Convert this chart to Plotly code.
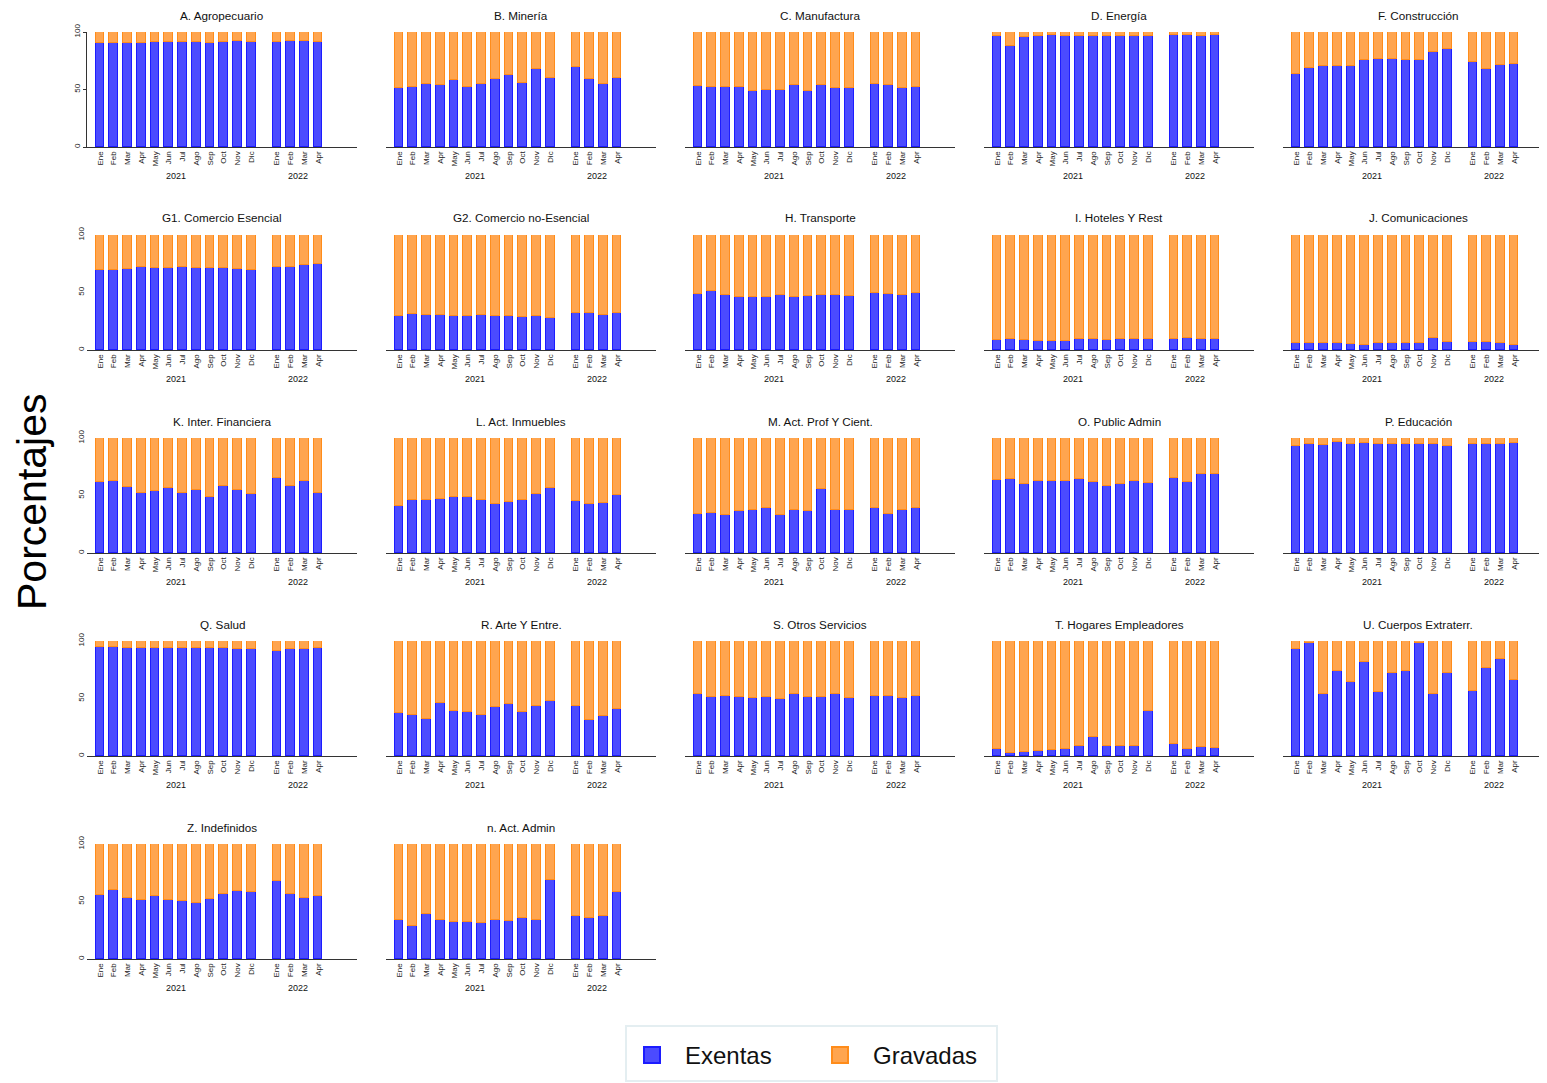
import plotly.graph_objects as go

# ---------------- data ----------------
meses_2021 = ["Ene", "Feb", "Mar", "Apr", "May", "Jun", "Jul", "Ago", "Sep", "Oct", "Nov", "Dic"]
meses_2022 = ["Ene", "Feb", "Mar", "Apr"]
anios = ["2021", "2022"]
series = ["Exentas", "Gravadas"]

titulos = [
    "A. Agropecuario", "B. Minería", "C. Manufactura", "D. Energía", "F. Construcción",
    "G1. Comercio Esencial", "G2. Comercio no-Esencial", "H. Transporte", "I. Hoteles Y Rest", "J. Comunicaciones",
    "K. Inter. Financiera", "L. Act. Inmuebles", "M. Act. Prof Y Cient.", "O. Public Admin", "P. Educación",
    "Q. Salud", "R. Arte Y Entre.", "S. Otros Servicios", "T. Hogares Empleadores", "U. Cuerpos Extraterr.",
    "Z. Indefinidos", "n. Act. Admin",
]

# Exentas share (%), 2021 Ene..Dic then 2022 Ene..Apr
exentas_A = [90.4, 90.1, 90.4, 90.4, 91.0, 91.0, 91.3, 91.6, 90.1, 91.3, 92.2, 91.3, 91.0, 91.9, 92.2, 91.6]
exentas_B = [51.1, 52.0, 55.2, 53.7, 58.6, 52.6, 54.6, 59.5, 62.4, 56.0, 68.1, 60.3, 69.8, 59.5, 54.6, 59.8]
exentas_C = [52.9, 52.0, 52.6, 52.0, 49.1, 50.0, 50.0, 53.7, 49.1, 53.7, 51.7, 51.1, 55.2, 54.3, 51.7, 52.0]
exentas_D = [96.5, 87.8, 96.0, 96.8, 97.0, 96.3, 96.8, 96.3, 96.3, 96.5, 96.5, 96.3, 97.0, 97.0, 96.3, 97.0]
exentas_F = [63.2, 69.0, 70.1, 70.7, 70.7, 75.9, 76.1, 76.7, 75.9, 75.3, 82.8, 85.3, 74.1, 68.1, 71.3, 71.8]
exentas_G1 = [69.5, 69.5, 70.5, 72.0, 71.5, 71.5, 72.0, 71.5, 71.5, 71.5, 70.5, 69.8, 72.2, 72.5, 73.5, 75.0]
exentas_G2 = [29.8, 31.5, 30.3, 30.3, 29.8, 29.8, 30.6, 29.8, 29.8, 28.9, 29.8, 28.0, 32.1, 32.1, 30.6, 32.4]
exentas_H = [48.3, 50.9, 48.0, 46.2, 46.0, 46.0, 48.0, 46.0, 47.1, 48.0, 47.4, 47.1, 49.4, 48.8, 48.0, 49.4]
exentas_I = [9.0, 9.2, 8.7, 8.1, 7.5, 7.5, 9.2, 9.2, 9.0, 9.2, 9.8, 9.8, 9.8, 10.1, 9.8, 9.2]
exentas_J = [5.8, 6.4, 5.8, 5.8, 5.5, 4.6, 5.8, 6.4, 6.1, 6.4, 10.1, 7.2, 7.2, 7.2, 6.4, 4.6]
exentas_K = [61.8, 62.7, 57.5, 52.3, 54.0, 56.6, 52.3, 55.2, 48.8, 58.4, 55.2, 51.7, 65.3, 58.4, 62.7, 52.6]
exentas_L = [41.0, 46.2, 46.5, 47.1, 48.3, 48.3, 46.2, 42.8, 44.2, 46.2, 51.7, 56.9, 44.8, 42.8, 43.6, 50.6]
exentas_M = [34.1, 34.7, 33.2, 36.7, 37.6, 39.3, 33.2, 37.0, 36.1, 55.5, 37.0, 37.0, 39.3, 34.1, 37.3, 39.3]
exentas_O = [63.9, 64.5, 60.1, 62.7, 62.7, 62.7, 64.5, 61.8, 58.7, 60.1, 62.7, 61.0, 65.3, 61.8, 68.8, 68.8]
exentas_P = [93.0, 95.0, 94.0, 96.5, 95.0, 96.0, 95.0, 95.0, 95.0, 95.0, 95.0, 93.0, 95.0, 95.0, 95.0, 96.0]
exentas_Q = [95.0, 95.0, 94.0, 94.0, 94.0, 94.0, 94.0, 94.0, 94.0, 94.0, 93.0, 93.0, 91.0, 93.0, 93.0, 94.0]
exentas_R = [37.1, 35.3, 31.9, 45.7, 39.1, 37.9, 35.3, 42.2, 45.1, 37.9, 43.4, 47.4, 43.4, 31.3, 34.5, 40.5]
exentas_S = [54.3, 51.1, 52.6, 51.7, 50.3, 50.9, 50.0, 54.3, 51.1, 51.7, 54.3, 50.3, 52.6, 52.6, 50.3, 52.6]
exentas_T = [5.8, 2.3, 3.5, 4.3, 4.9, 5.8, 8.6, 16.7, 8.6, 8.6, 8.6, 38.9, 10.1, 5.8, 7.8, 6.6]
exentas_U = [93.4, 98.6, 54.2, 74.1, 64.6, 82.1, 55.3, 71.8, 73.5, 98.6, 54.2, 72.6, 56.5, 76.1, 84.1, 65.7]
exentas_Z = [55.8, 59.8, 52.9, 51.4, 54.6, 51.4, 50.6, 48.8, 52.3, 56.6, 59.0, 58.1, 67.9, 56.4, 52.9, 54.6]
exentas_n = [34.1, 28.9, 39.3, 34.1, 32.1, 32.1, 31.2, 34.1, 33.2, 35.5, 34.1, 68.5, 37.3, 35.5, 37.3, 58.1]

exentas = [
    exentas_A, exentas_B, exentas_C, exentas_D, exentas_F,
    exentas_G1, exentas_G2, exentas_H, exentas_I, exentas_J,
    exentas_K, exentas_L, exentas_M, exentas_O, exentas_P,
    exentas_Q, exentas_R, exentas_S, exentas_T, exentas_U,
    exentas_Z, exentas_n,
]
# Gravadas is the complement of Exentas (shares add to 100 %)
gravadas = [[round(100 - v, 1) for v in s] for s in exentas]

# ---------------- layout geometry ----------------
WIN_W, WIN_H = 1547, 1083
OFF = 8                       # default page margin of the html body
W, H = WIN_W - OFF, WIN_H - OFF


def px(xw):
    """window x pixel -> paper x"""
    return (xw - OFF) / W


def py(yw):
    """window y pixel -> paper y"""
    return 1 - (yw - OFF) / H


FONT = "Liberation Sans, Arial, sans-serif"
BLUE_FILL, BLUE_LINE = "#4b4bff", "#1c1cff"
ORANGE_FILL, ORANGE_LINE = "#ffa54f", "#ff8c1a"

pos_2021 = [i + 1 for i in range(12)]
pos_2022 = [13.87 + j for j in range(4)]
positions = pos_2021 + pos_2022
tick_text = meses_2021 + meses_2022

COL_W = 299
ROW_H = 203
PX_PER_UNIT = 270 / 19.65

fig = go.Figure()
annotations = []

for k, titulo in enumerate(titulos):
    r, c = divmod(k, 5)
    suffix = "" if k == 0 else str(k + 1)
    xname, yname = "x" + suffix, "y" + suffix

    left_w = 87 + COL_W * c
    right_w = min(357 + COL_W * c, WIN_W)
    x0 = 0.05
    x1 = x0 + (right_w - left_w) / PX_PER_UNIT
    top_w = 32 + ROW_H * r
    base_w = 147 + ROW_H * r

    fig.add_trace(go.Bar(
        x=positions, y=exentas[k], name=series[0], width=0.63,
        marker=dict(color=BLUE_FILL, line=dict(color=BLUE_LINE, width=1)),
        xaxis=xname, yaxis=yname, showlegend=False,
    ))
    fig.add_trace(go.Bar(
        x=positions, y=gravadas[k], name=series[1], width=0.63,
        marker=dict(color=ORANGE_FILL, line=dict(color=ORANGE_LINE, width=1)),
        xaxis=xname, yaxis=yname, showlegend=False,
    ))

    fig.layout["xaxis" + suffix] = dict(
        domain=[px(left_w), px(right_w)], range=[x0, x1], anchor=yname,
        tickmode="array", tickvals=positions, ticktext=tick_text, tickangle=-90,
        tickfont=dict(size=8, color="#222", family=FONT), ticks="",
        showline=True, linecolor="#333", linewidth=1.3,
        showgrid=False, zeroline=False, fixedrange=True,
    )
    fig.layout["yaxis" + suffix] = dict(
        domain=[py(base_w), py(top_w)], range=[0, 100], anchor=xname,
        tickmode="array", tickvals=[0, 50, 100], tickangle=-90,
        showticklabels=(c == 0), tickfont=dict(size=8, color="#222", family=FONT),
        ticks="outside" if k == 0 else "", ticklen=3, tickcolor="#333",
        showline=(k == 0), linecolor="#333", linewidth=1,
        showgrid=False, zeroline=False, fixedrange=True,
    )

    annotations.append(dict(
        text=titulo, x=px((left_w + 357 + COL_W * c) / 2), y=py(15 + ROW_H * r),
        xref="paper", yref="paper", xanchor="center", yanchor="middle", showarrow=False,
        font=dict(size=11.7, color="#111", family=FONT),
    ))
    for anio, centro in zip(anios, [sum(pos_2021) / 12, sum(pos_2022) / 4]):
        annotations.append(dict(
            text=anio, x=centro, y=py(176 + ROW_H * r),
            xref=xname, yref="paper", xanchor="center", yanchor="middle", showarrow=False,
            font=dict(size=9, color="#111", family=FONT),
        ))

annotations.append(dict(
    text="Porcentajes", x=px(32), y=py(502), xref="paper", yref="paper",
    textangle=-90, xanchor="center", yanchor="middle", showarrow=False,
    font=dict(size=41, color="#000", family=FONT),
))

# legend entries
fig.add_trace(go.Scatter(
    x=[None], y=[None], mode="markers", name=series[0],
    marker=dict(symbol="square", size=16, color=BLUE_FILL, line=dict(color=BLUE_LINE, width=2)),
))
fig.add_trace(go.Scatter(
    x=[None], y=[None], mode="markers", name=series[1],
    marker=dict(symbol="square", size=16, color=ORANGE_FILL, line=dict(color=ORANGE_LINE, width=2)),
))

# legend frame
legend_box = dict(
    type="rect", xref="paper", yref="paper",
    x0=px(626), x1=px(997), y0=py(1081), y1=py(1026),
    line=dict(color="#e4eef1", width=2), fillcolor="rgba(0,0,0,0)", layer="below",
)

fig.update_layout(
    width=W, height=H, barmode="stack", bargap=0,
    margin=dict(l=0, r=0, t=0, b=0, autoexpand=False),
    paper_bgcolor="white", plot_bgcolor="white",
    font=dict(family=FONT, color="#111"),
    annotations=annotations,
    shapes=[legend_box],
    showlegend=True,
    legend=dict(
        orientation="h", x=px(619), xanchor="left",
        y=py(1033), yanchor="top", traceorder="normal",
        font=dict(size=24, color="#111", family=FONT),
        borderwidth=0, bgcolor="rgba(0,0,0,0)",
        entrywidth=117, itemwidth=56,
    ),
)

fig.write_html("out.html")
